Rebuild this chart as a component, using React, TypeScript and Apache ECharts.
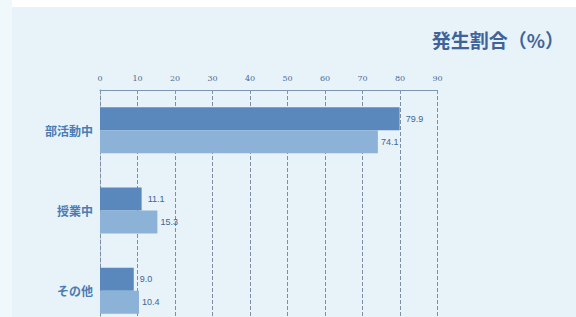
import React, { useEffect, useRef } from "react";
import * as echarts from "echarts";

const categories = ["部活動中", "授業中", "その他"];
const seriesA = [79.9, 11.1, 9.0];
const seriesB = [74.1, 15.3, 10.4];
const labelsA = ["79.9", "11.1", "9.0"];
const labelsB = ["74.1", "15.3", "10.4"];
const titleText = "発生割合（%）";

export default function App() {
  const ref = useRef<HTMLDivElement>(null);
  useEffect(() => {
    document.body.style.margin = "0";
    document.body.style.overflow = "hidden";
    document.documentElement.style.overflow = "hidden";
    const chart = echarts.init(ref.current!, null, { renderer: "svg" });
    chart.setOption({
      animation: false,
      backgroundColor: "#e7f2f9",
      graphic: [
        { type: "rect", left: 0, top: 0, shape: { width: 576, height: 7 }, style: { fill: "#ffffff" } },
        { type: "rect", left: 0, top: 0, shape: { width: 12, height: 340 }, style: { fill: "#f1f8fc" } },
        {
          type: "text",
          right: 12,
          top: 30,
          style: {
            text: titleText,
            fontSize: 19,
            fontWeight: "bold",
            fill: "#3f6398",
            fontFamily: "Noto Sans CJK JP",
          },
        },
      ],
      grid: { left: 100, top: 90, right: 138.5, bottom: 9 },
      xAxis: {
        type: "value",
        position: "top",
        min: 0,
        max: 90,
        interval: 10,
        axisLine: { show: true, lineStyle: { color: "#7e95b3", width: 1 } },
        axisTick: { show: true, length: 4, inside: true, lineStyle: { color: "#7e95b3" } },
        axisLabel: { color: "#4d6b98", fontSize: 8, margin: 8, fontFamily: "DejaVu Serif" },
        splitLine: { show: true, lineStyle: { color: "#7f8fa3", type: "dashed", width: 1 } },
      },
      yAxis: {
        type: "category",
        inverse: true,
        data: categories,
        axisLine: { show: true, lineStyle: { color: "#7f8fa3", type: "dashed" } },
        axisTick: { show: false },
        axisLabel: {
          color: "#4a7db4",
          fontSize: 12,
          fontWeight: "bold",
          margin: 7,
          fontFamily: "Noto Sans CJK JP",
        },
      },
      series: [
        {
          type: "bar",
          data: seriesA,
          barWidth: 23,
          barGap: "0%",
          itemStyle: { color: "#5a88bc" },
          label: {
            show: true,
            position: "right",
            distance: 6,
            fontSize: 9,
            color: "#3f6598",
            formatter: (p: any) => labelsA[p.dataIndex],
          },
        },
        {
          type: "bar",
          data: seriesB,
          barWidth: 23,
          barGap: "0%",
          itemStyle: { color: "#8db2d8" },
          label: {
            show: true,
            position: "right",
            distance: 3,
            fontSize: 9,
            color: "#3f6598",
            formatter: (p: any) => labelsB[p.dataIndex],
          },
        },
      ],
    });
    return () => chart.dispose();
  }, []);
  return <div ref={ref} style={{ width: 576, height: 340 }} />;
}
